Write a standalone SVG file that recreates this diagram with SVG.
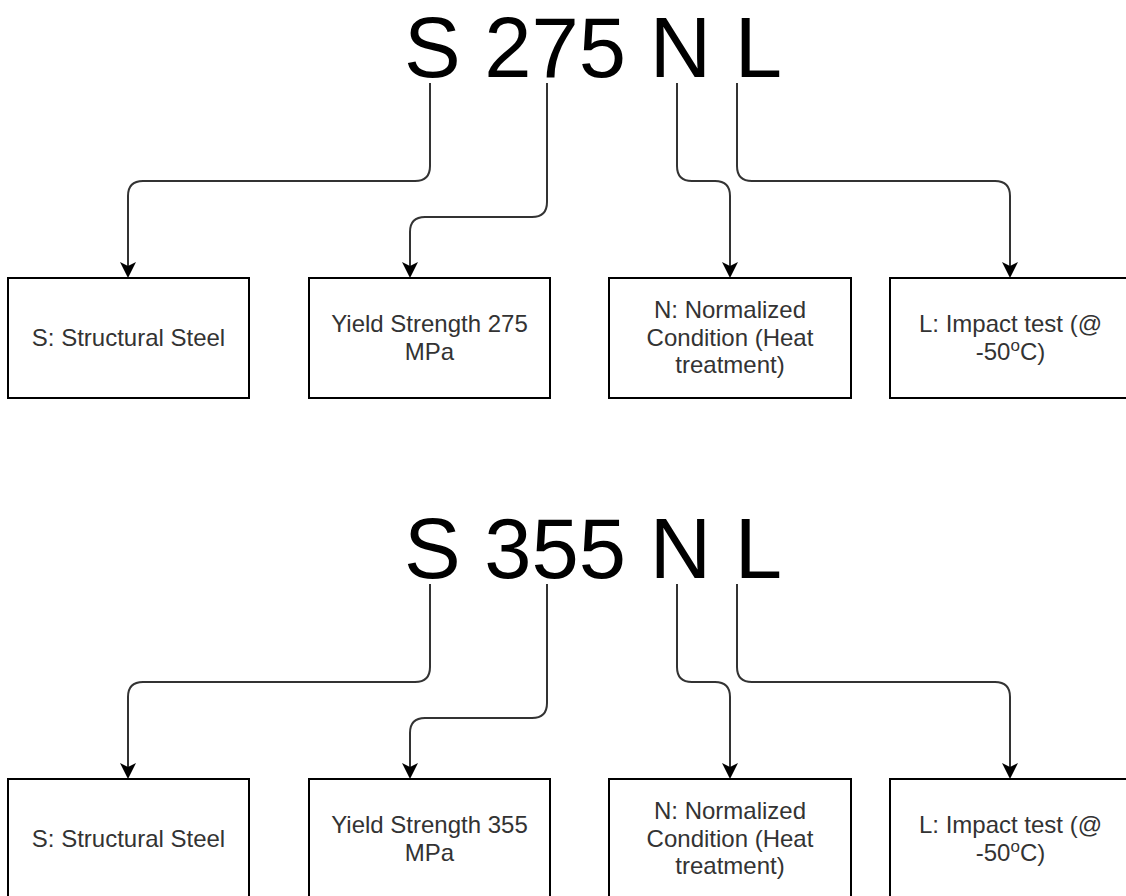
<svg xmlns="http://www.w3.org/2000/svg" width="1126" height="896" viewBox="0 0 1126 896">
<style>
.title{font-family:"Liberation Sans",Arial,sans-serif;font-size:85px;fill:#000}
.box{fill:#fff;stroke:#000;stroke-width:2}
.lbl{font-family:"Liberation Sans",Arial,sans-serif;font-size:24px;fill:#333;text-anchor:middle}
.sup{font-size:17px}
.conn{fill:none;stroke:#333;stroke-width:2;marker-end:url(#arr)}
</style>
<defs>
<marker id="arr" markerUnits="userSpaceOnUse" viewBox="-17 -9 18 18" markerWidth="18" markerHeight="18" refX="-9" refY="0" orient="auto">
<path d="M0,0 L-16,-8 L-12,0 L-16,8 Z" fill="#000"/>
</marker>
</defs>
<rect width="1126" height="896" fill="#fff"/>

<g id="title1"><text class="title" x="404" y="77">S 275 N L</text></g>
<g id="title2"><text class="title" x="404" y="578">S 355 N L</text></g>

<g id="connectors">
<path class="conn" d="M430,83 V166 Q430,181 415,181 H143 Q128,181 128,196 V269"/>
<path class="conn" d="M547,83 V202 Q547,217 532,217 H425 Q410,217 410,232 V269"/>
<path class="conn" d="M677,83 V166 Q677,181 692,181 H715 Q730,181 730,196 V269"/>
<path class="conn" d="M737,83 V166 Q737,181 752,181 H995 Q1010,181 1010,196 V269"/>
<path class="conn" d="M430,584 V667 Q430,682 415,682 H143 Q128,682 128,697 V770"/>
<path class="conn" d="M547,584 V703 Q547,718 532,718 H425 Q410,718 410,733 V770"/>
<path class="conn" d="M677,584 V667 Q677,682 692,682 H715 Q730,682 730,697 V770"/>
<path class="conn" d="M737,584 V667 Q737,682 752,682 H995 Q1010,682 1010,697 V770"/>
</g>

<g id="n1a"><rect class="box" x="8" y="278" width="241" height="120"/><text class="lbl" x="128.5" y="346">S: Structural Steel</text></g>
<g id="n2a"><rect class="box" x="309" y="278" width="241" height="120"/><text class="lbl" x="429.5" y="332">Yield Strength 275</text><text class="lbl" x="429.5" y="360">MPa</text></g>
<g id="n3a"><rect class="box" x="609" y="278" width="242" height="120"/><text class="lbl" x="730" y="318">N: Normalized</text><text class="lbl" x="730" y="346">Condition (Heat</text><text class="lbl" x="730" y="373">treatment)</text></g>
<g id="n4a"><rect class="box" x="890" y="278" width="241" height="120"/><text class="lbl" x="1010.5" y="332">L: Impact test (@</text><text class="lbl" x="1010.5" y="360">-50<tspan class="sup" dy="-9">o</tspan><tspan dy="9">C)</tspan></text></g>

<g id="n1b"><rect class="box" x="8" y="779" width="241" height="120"/><text class="lbl" x="128.5" y="847">S: Structural Steel</text></g>
<g id="n2b"><rect class="box" x="309" y="779" width="241" height="120"/><text class="lbl" x="429.5" y="833">Yield Strength 355</text><text class="lbl" x="429.5" y="861">MPa</text></g>
<g id="n3b"><rect class="box" x="609" y="779" width="242" height="120"/><text class="lbl" x="730" y="819">N: Normalized</text><text class="lbl" x="730" y="847">Condition (Heat</text><text class="lbl" x="730" y="874">treatment)</text></g>
<g id="n4b"><rect class="box" x="890" y="779" width="241" height="120"/><text class="lbl" x="1010.5" y="833">L: Impact test (@</text><text class="lbl" x="1010.5" y="861">-50<tspan class="sup" dy="-9">o</tspan><tspan dy="9">C)</tspan></text></g>
</svg>
